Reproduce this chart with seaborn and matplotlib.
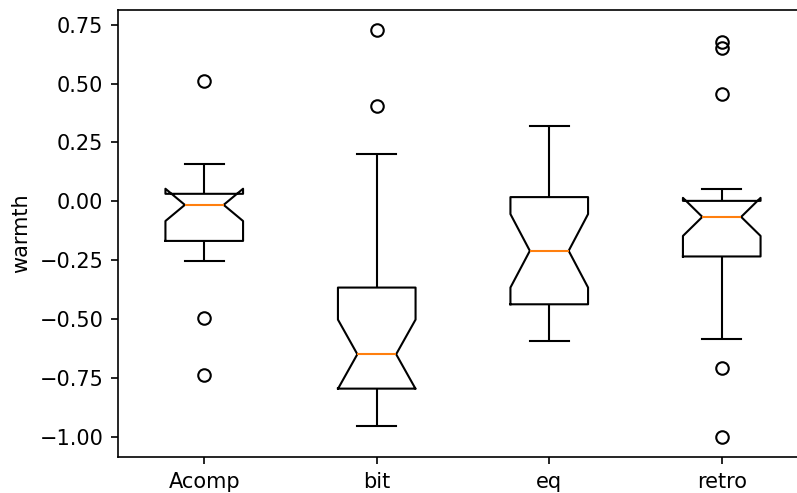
import pandas as pd
import matplotlib
matplotlib.use("Agg")
import matplotlib.pyplot as plt
import seaborn as sns

groups = ["Acomp", "bit", "eq", "retro"]

acomp = [-0.737, -0.496, -0.253, -0.22, -0.19, -0.168, -0.12, -0.08, -0.05, -0.03,
         -0.015, -0.005, 0.005, 0.015, 0.025, 0.032, 0.06, 0.09, 0.12, 0.159, 0.509]
bit = [-0.954, -0.90, -0.86, -0.83, -0.81, -0.795, -0.76, -0.72, -0.69, -0.67,
       -0.649, -0.60, -0.55, -0.48, -0.42, -0.366, -0.20, 0.0, 0.202, 0.403, 0.726]
eq = [-0.593, -0.55, -0.51, -0.48, -0.46, -0.437, -0.39, -0.33, -0.28, -0.24,
      -0.210, -0.16, -0.11, -0.06, -0.02, 0.018, 0.06, 0.12, 0.19, 0.25, 0.321]
retro = [-0.999, -0.709, -0.583, -0.40, -0.28, -0.234, -0.20, -0.15, -0.11, -0.08,
         -0.066, -0.05, -0.03, -0.02, -0.01, 0.002, 0.02, 0.052, 0.457, 0.651, 0.675]

df = pd.DataFrame({
    "group": [g for g, vals in zip(groups, [acomp, bit, eq, retro]) for _ in vals],
    "warmth": acomp + bit + eq + retro,
})

fig = plt.figure(figsize=(797 / 150, 493 / 150), dpi=150)
ax = fig.add_axes([118 / 797, 36 / 493, 690 / 797, 447 / 493])

sns.boxplot(
    data=df, x="group", y="warmth", order=groups, ax=ax,
    color="black", fill=False, width=0.45, linewidth=1, fliersize=6,
    shownotches=True, capwidths=0.225,
    medianprops=dict(color="#ff7f0e", linewidth=1),
    flierprops=dict(marker="o", markerfacecolor="none",
                    markeredgecolor="black", markersize=6),
)

ax.set_xlabel("")
ax.set_ylabel("warmth")

fig.savefig("out.png", dpi=150)
